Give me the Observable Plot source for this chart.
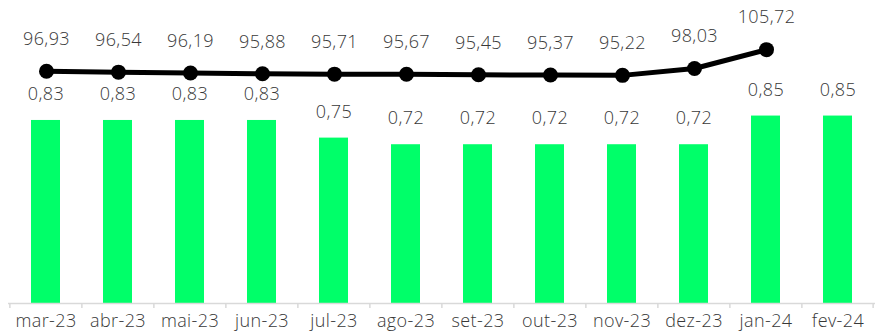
<!DOCTYPE html>
<html>
<head>
<meta charset="utf-8">
<script src="https://cdn.jsdelivr.net/npm/d3@7"></script>
<script src="https://cdn.jsdelivr.net/npm/@observablehq/plot@0.6"></script>
<style>
  html, body { margin: 0; padding: 0; background: #fff; }
  #chart { position: relative; width: 875px; height: 334px; }
  #chart svg { position: absolute; left: 0; top: 0; overflow: visible; }
  #chart svg text { letter-spacing: 0.4px; }
</style>
</head>
<body>
<div id="chart"></div>
<script>
const months = ["mar-23","abr-23","mai-23","jun-23","jul-23","ago-23","set-23","out-23","nov-23","dez-23","jan-24","fev-24"];
const barValues = [0.83,0.83,0.83,0.83,0.75,0.72,0.72,0.72,0.72,0.72,0.85,0.85];
const lineMonths = ["mar-23","abr-23","mai-23","jun-23","jul-23","ago-23","set-23","out-23","nov-23","dez-23","jan-24"];
const lineValues = [96.93,96.54,96.19,95.88,95.71,95.67,95.45,95.37,95.22,98.03,105.72];

const W = 875, H = 334;
const mL = 8, mR = 0, mT = 0, mB = 31;
const font = "'Open Sans', Lato, sans-serif";
const textColor = "#383838";
const fs = 18;
const fmt = v => v.toFixed(2).replace(".", ",");

const bars = months.map((m, i) => ({month: m, value: barValues[i]}));
const line = lineMonths.map((m, i) => ({month: m, value: lineValues[i]}));

const step = (W - mL - mR) / months.length;
const barDomainMax = 1.374;
const pxPerUnit = (H - mB - mT) / barDomainMax;
const tickLen = 5 / pxPerUnit;

const xScale = {domain: months, paddingInner: 0.6, paddingOuter: 0.3};

const barPlot = Plot.plot({
  width: W, height: H,
  marginLeft: mL, marginRight: mR, marginTop: mT, marginBottom: mB,
  style: {fontFamily: font, background: "transparent", fontWeight: 300},
  x: {...xScale, axis: null},
  y: {domain: [0, barDomainMax], axis: null},
  marks: [
    Plot.barY(bars, {x: "month", y: "value", fill: "#00FF69"}),
    Plot.ruleY([0], {stroke: "#d9d9d9", strokeWidth: 1.5}),
    Plot.ruleX(months, {x: d => d, dx: -step / 2, y1: 0, y2: -tickLen, stroke: "#d9d9d9", strokeWidth: 1.5}),
    Plot.ruleX(months.slice(-1), {x: d => d, dx: step / 2 - 1, y1: 0, y2: -tickLen, stroke: "#d9d9d9", strokeWidth: 1.5}),
    Plot.text(bars, {x: "month", y: "value", text: d => fmt(d.value), dy: -26, fontSize: fs, fill: textColor, lineAnchor: "middle"}),
    Plot.axisX({tickSize: 0, tickPadding: 11, fontSize: fs, fill: textColor, label: null})
  ]
});

const linePlot = Plot.plot({
  width: W, height: H,
  marginLeft: mL, marginRight: mR, marginTop: mT, marginBottom: mB,
  style: {fontFamily: font, background: "transparent", fontWeight: 300},
  x: {...xScale, axis: null},
  y: {domain: [2.04, 125.8], axis: null},
  marks: [
    Plot.line(line, {x: "month", y: "value", stroke: "#000", strokeWidth: 5}),
    Plot.dot(line, {x: "month", y: "value", r: 7.5, fill: "#000"}),
    Plot.text(line, {x: "month", y: "value", text: d => fmt(d.value), dy: -32, fontSize: fs, fill: textColor, lineAnchor: "middle"})
  ]
});

const chart = document.getElementById("chart");
chart.appendChild(barPlot);
chart.appendChild(linePlot);
</script>
</body>
</html>
